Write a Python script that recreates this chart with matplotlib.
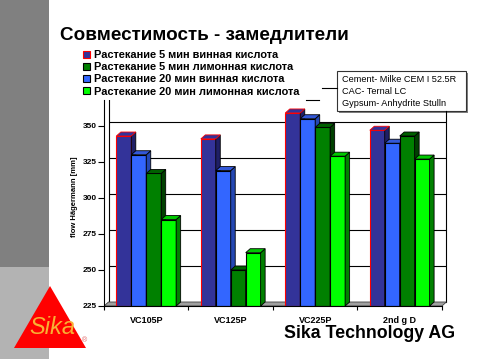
import matplotlib.pyplot as plt
from matplotlib.patches import Polygon, Rectangle

plt.rcParams['font.family'] = ['Liberation Sans', 'DejaVu Sans']

categories = ['VC105P', 'VC125P', 'VC225P', '2nd g D']
tart_5 = [343, 341, 359, 347]
tart_20 = [330, 319, 355, 338]
citr_5 = [317, 250, 349, 343]
citr_20 = [285, 262, 329, 327]

labels = ['Растекание 5 мин винная кислота',
          'Растекание 20 мин винная кислота',
          'Растекание 5 мин лимонная кислота',
          'Растекание 20 мин лимонная кислота']
note = ['Cement- Milke CEM I 52.5R', 'CAC- Ternal LC', 'Gypsum- Anhydrite Stulln']
yticks = [225, 250, 275, 300, 325, 350]

W, H = 488, 359
fig = plt.figure(figsize=(W / 100, H / 100), dpi=100)

# background decorations in pixel coordinates
bg = fig.add_axes([0, 0, 1, 1], zorder=-1)
bg.set_xlim(0, W)
bg.set_ylim(H, 0)
bg.axis('off')
bg.add_patch(Rectangle((0, 0), 49, 267, fc='#808080', ec='none'))
bg.add_patch(Rectangle((0, 267), 49, 92, fc='#b3b3b3', ec='none'))
bg.add_patch(Polygon([(50, 286), (14, 348), (86, 348)], fc='#ff0000', ec='none'))
bg.text(52, 327, 'Sika', color='#f8b133', fontsize=17, style='italic',
        ha='center', va='center')
bg.text(85, 341, '®', color='#e06060', fontsize=5, ha='center', va='center')

# note box with shadow
bg.add_patch(Rectangle((339, 73), 129, 40, fc='#808080', ec='none'))
bg.add_patch(Rectangle((337, 71), 129, 40, fc='white', ec='#333333', lw=0.8))
for i, t in enumerate(note):
    bg.text(342, 80 + i * 11.5, t, fontsize=6.6, va='center')
bg.plot([322, 337], [88, 88], color='black', lw=0.8)
bg.plot([306, 319], [100, 100], color='black', lw=0.8)

# main chart
ax = fig.add_axes([104 / W, (H - 306) / H, (447 - 104) / W, (306 - 100) / H])
ax.patch.set_visible(False)
ax.set_xlim(-0.5, 3.56)
ax.set_ylim(225, 368)

ppx = (447 - 104) / 4.06
ppy = 206 / 143
dx, dy = 4.5 / ppx, 4 / ppy

ax.hlines([v + dy for v in yticks[1:]], -0.5 + dx, 3.5 + dx, color='black', lw=0.8, zorder=1)
ax.plot([-0.5 + dx, -0.5 + dx], [225 + dy, 368], color='black', lw=0.8, zorder=1)
ax.plot([3.5 + dx, 3.5 + dx], [225 + dy, 360.5], color='black', lw=0.8, zorder=1,
        clip_on=False)
ax.add_patch(Polygon([(-0.5, 225), (3.5, 225), (3.5 + dx, 225 + dy), (-0.5 + dx, 225 + dy)],
                     fc='#a0a0a0', ec='#404040', lw=0.6, zorder=2))

series = [tart_5, tart_20, citr_5, citr_20]
faces = ['#333399', '#3366ff', '#008000', '#00ff00']
sides = ['#1f1f66', '#2447b3', '#004000', '#008000']
tops = ['#333399', '#3358d8', '#006000', '#00c800']
edges = ['#ff0000', 'black', 'black', 'black']
bw = 0.177
x = list(range(len(categories)))

handles = [None] * 4
z = 3
for c in x:
    for i, vals in enumerate(series):
        v = vals[c]
        x0 = c + (i - 2) * bw
        b = ax.bar(x0, v - 225, width=bw, bottom=225, align='edge', color=faces[i],
                   edgecolor=edges[i], lw=0.8, zorder=z)
        handles[i] = b[0]
        x1 = x0 + bw
        ax.add_patch(Polygon([(x1, 225), (x1 + dx, 225 + dy), (x1 + dx, v + dy), (x1, v)],
                             fc=sides[i], ec='black', lw=0.6, zorder=z))
        ax.add_patch(Polygon([(x0, v), (x0 + dx, v + dy), (x1 + dx, v + dy), (x1, v)],
                             fc=tops[i], ec=edges[i], lw=0.6, zorder=z))
        z += 1

ax.spines['top'].set_visible(False)
ax.spines['right'].set_visible(False)
ax.spines['bottom'].set_bounds(-0.5, 3.5)
ax.spines['bottom'].set_zorder(50)
ax.set_yticks(yticks)
ax.set_yticklabels([str(v) for v in yticks], fontsize=6, fontweight='bold')
ax.tick_params(axis='y', length=4, pad=1, width=0.8)
ax.set_xticks(x)
ax.set_xticklabels(categories, fontsize=6.5, fontweight='bold')
ax.set_xticks([-0.5, 0.5, 1.5, 2.5, 3.5], minor=True)
ax.tick_params(axis='x', which='major', length=0, pad=7)
ax.tick_params(axis='x', which='minor', length=3, width=0.8)

fig.text(75 / W, 1 - 197 / H, 'flow Hägermann [mm]', rotation=90, fontsize=5.5,
         fontweight='bold', ha='center', va='center')

order = [0, 2, 1, 3]
fig.legend([handles[i] for i in order], [labels[i] for i in order], loc='upper left',
           bbox_to_anchor=(83 / W, 1 - 50 / H), frameon=False, handlelength=0.6,
           handleheight=0.6, handletextpad=0.4, labelspacing=0.2, borderpad=0,
           borderaxespad=0, prop={'size': 7.9, 'weight': 'bold'})

fig.text(60 / W, 1 - 36 / H, 'Совместимость - замедлители', fontsize=13.6,
         fontweight='bold', va='center')
fig.text(284 / W, 1 - 333 / H, 'Sika Technology AG', fontsize=12.8, fontweight='bold',
         va='center')

fig.savefig('out.png', dpi=100)
